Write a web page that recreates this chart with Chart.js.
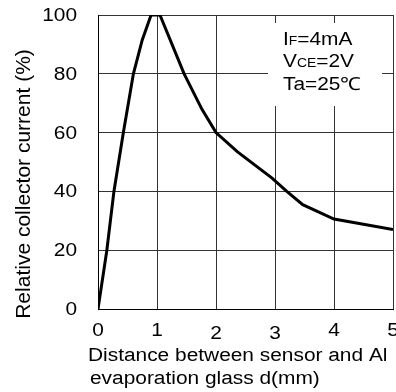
<!DOCTYPE html>
<html>
<head>
  <meta charset="UTF-8">
  <title>Relative collector current vs distance</title>
  <script src="https://cdn.jsdelivr.net/npm/chart.js@4.4.0/dist/chart.umd.min.js"></script>
  <style>
    html, body { margin: 0; padding: 0; background: #fff; }
    #wrap { width: 396px; height: 392px; }
  </style>
</head>
<body>
<div id="wrap"><canvas id="myChart"></canvas></div>
<script>
  // distance d (mm) / relative collector current (%)
  var distance = [0, 0.15, 0.27, 0.43, 0.6, 0.75, 0.9, 1.05, 1.46, 1.76, 2.0, 2.36, 2.95, 3.2, 3.47, 4.0, 5.0];
  var current  = [0, 20, 40, 60, 80, 91.5, 100, 100, 80, 68, 60, 53.5, 44.5, 40, 35.5, 30.6, 27];
  var xTicks = [0, 1, 2, 3, 4, 5];
  var yTicks = [0, 20, 40, 60, 80, 100];
  var yTitle = 'Relative collector current (%)';
  var xTitle = ['Distance between sensor and Al', 'evaporation glass d(mm)'];
  // condition box: [main, small, rest]
  var cond = [['I', 'F', '=4mA'], ['V', 'CE', '=2V'], ['Ta=25℃', '', '']];

  var FONT = '"Liberation Sans", Arial, sans-serif';
  var SX = 1.16; // the source text is a bit wider than it is tall

  // draw text stretched horizontally
  function wide(c, str, x, y, size) {
    c.save();
    c.font = size + 'px ' + FONT;
    c.translate(x, y);
    c.scale(SX, 1);
    c.fillText(str, 0, 0);
    var w = c.measureText(str).width * SX;
    c.restore();
    return w;
  }

  var labelsPlugin = {
    id: 'labels',
    beforeDatasetsDraw: function(chart) {
      // white box that hides the grid behind the conditions text
      var c = chart.ctx;
      c.save();
      c.fillStyle = '#fff';
      c.fillRect(268, 23, 114, 83);
      c.restore();
    },
    afterDraw: function(chart) {
      var c = chart.ctx;
      var xs = chart.scales.x, ys = chart.scales.y;
      c.save();
      c.fillStyle = '#000';
      // y tick labels
      c.textAlign = 'right';
      c.textBaseline = 'middle';
      yTicks.forEach(function(v) {
        wide(c, String(v), 77, ys.getPixelForValue(v) + 1, 18);
      });
      // x tick labels (2 and 3 sit a little lower, as in the source)
      var drop = [0, 0, 3, 3, 0, 0];
      c.textAlign = 'center';
      xTicks.forEach(function(v, i) {
        wide(c, String(v), xs.getPixelForValue(v), 331 + drop[i], 18);
      });
      // x title
      c.textAlign = 'left';
      c.textBaseline = 'alphabetic';
      wide(c, xTitle[0], 88, 361, 18);
      wide(c, xTitle[1], 90, 384, 18);
      // y title
      c.save();
      c.font = '21px ' + FONT;
      c.translate(30, 184);
      c.rotate(-Math.PI / 2);
      c.textAlign = 'center';
      c.fillText(yTitle, 0, 0);
      c.restore();
      // conditions
      var base = [45, 67, 90];
      cond.forEach(function(p, i) {
        var x = 283;
        x += wide(c, p[0], x, base[i], 18);
        if (p[1]) {
          x += wide(c, p[1], x, base[i], 12);
          wide(c, p[2], x, base[i], 18);
        }
      });
      c.restore();
    }
  };

  var ctx = document.getElementById('myChart').getContext('2d');
  var myChart = new Chart(ctx, {
    type: 'line',
    data: {
      datasets: [{
        data: distance.map(function(d, i) { return { x: d, y: current[i] }; }),
        borderColor: '#000',
        borderWidth: 3,
        pointRadius: 0,
        tension: 0,
        fill: false
      }]
    },
    options: {
      responsive: true,
      maintainAspectRatio: false,
      animation: false,
      layout: { padding: { left: 98, right: 3, top: 15, bottom: 83 } },
      plugins: { legend: { display: false }, tooltip: { enabled: false } },
      scales: {
        x: {
          type: 'linear', min: 0, max: 5,
          ticks: { display: false, stepSize: 1 },
          grid: { color: '#333', lineWidth: 1, drawTicks: false },
          border: { color: '#000', width: 1 },
          afterFit: function(s) { s.height = 0; }
        },
        y: {
          min: 0, max: 100,
          ticks: { display: false, stepSize: 20 },
          grid: { color: '#333', lineWidth: 1, drawTicks: false },
          border: { color: '#000', width: 1 },
          afterFit: function(s) { s.width = 0; }
        }
      }
    },
    plugins: [labelsPlugin]
  });
</script>
</body>
</html>
